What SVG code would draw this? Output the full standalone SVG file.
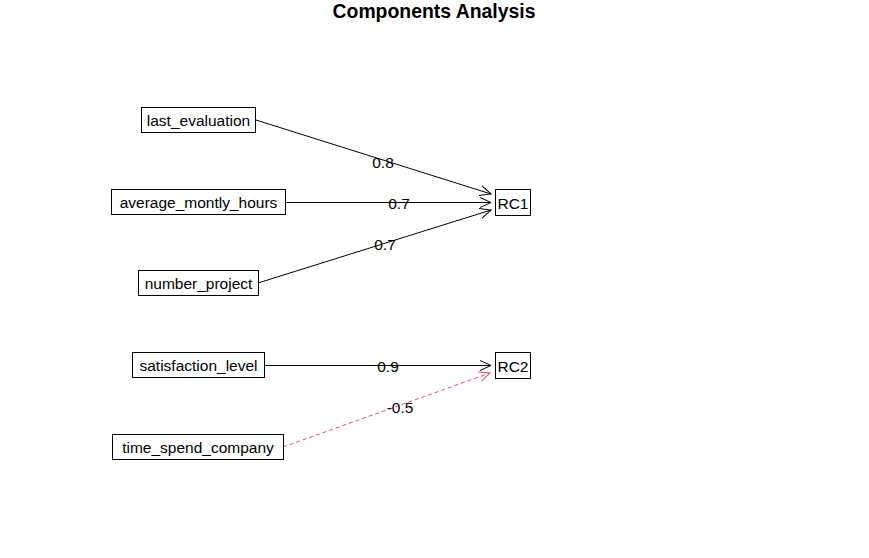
<svg xmlns="http://www.w3.org/2000/svg" width="869" height="558" viewBox="0 0 869 558">
<style>
.box{fill:#fff;stroke:#000;stroke-width:1}
.t{font-family:"Liberation Sans",Arial,sans-serif;font-size:15.5px;fill:#000;text-anchor:middle}
.e{fill:none;stroke:#000;stroke-width:1}
.neg{fill:none;stroke:#DF536B;stroke-width:1;stroke-dasharray:4,3}
</style>
<defs>
<marker id="ab" markerWidth="14" markerHeight="12" refX="12" refY="6" orient="auto" markerUnits="userSpaceOnUse">
<path d="M1,1 L12,6 L1,11" fill="none" stroke="#000" stroke-width="1"/>
</marker>
<marker id="ar" markerWidth="14" markerHeight="12" refX="12" refY="6" orient="auto" markerUnits="userSpaceOnUse">
<path d="M1,1 L12,6 L1,11" fill="none" stroke="#DF536B" stroke-width="1"/>
</marker>
</defs>
<rect width="869" height="558" fill="#fff"/>
<text x="434" y="18" font-family="Liberation Sans,Arial,sans-serif" font-size="19.4" font-weight="bold" text-anchor="middle">Components Analysis</text>
<g id="connectors">
<line class="e" x1="256" y1="120" x2="491" y2="194" marker-end="url(#ab)"/>
<line class="e" x1="285" y1="202.5" x2="491" y2="202.5" marker-end="url(#ab)"/>
<line class="e" x1="258" y1="283" x2="491" y2="210" marker-end="url(#ab)"/>
<line class="e" x1="264" y1="365.5" x2="491" y2="365.5" marker-end="url(#ab)"/>
<line class="neg" x1="283" y1="447" x2="490" y2="373" marker-end="url(#ar)"/>
<text class="t" x="383" y="167.5">0.8</text>
<text class="t" x="399" y="208.5">0.7</text>
<text class="t" x="385" y="249.5">0.7</text>
<text class="t" x="388" y="371.5">0.9</text>
<text class="t" x="400" y="412.5">-0.5</text>
</g>
<g id="last_evaluation"><rect class="box" x="141.5" y="107.5" width="114" height="25"/><text class="t" x="198.5" y="125.5">last_evaluation</text></g>
<g id="average_montly_hours"><rect class="box" x="111.5" y="189.5" width="174" height="25"/><text class="t" x="198.5" y="207.5">average_montly_hours</text></g>
<g id="number_project"><rect class="box" x="138.5" y="270.5" width="120" height="25"/><text class="t" x="198.5" y="288.5">number_project</text></g>
<g id="satisfaction_level"><rect class="box" x="132.5" y="352.5" width="132" height="25"/><text class="t" x="198.5" y="370.5">satisfaction_level</text></g>
<g id="time_spend_company"><rect class="box" x="112.5" y="434.5" width="171" height="25"/><text class="t" x="198" y="452.5">time_spend_company</text></g>
<g id="RC1"><rect class="box" x="495.5" y="189.5" width="35" height="26"/><text class="t" x="513" y="208.5">RC1</text></g>
<g id="RC2"><rect class="box" x="495.5" y="352.5" width="35" height="26"/><text class="t" x="513" y="371.5">RC2</text></g>
</svg>
